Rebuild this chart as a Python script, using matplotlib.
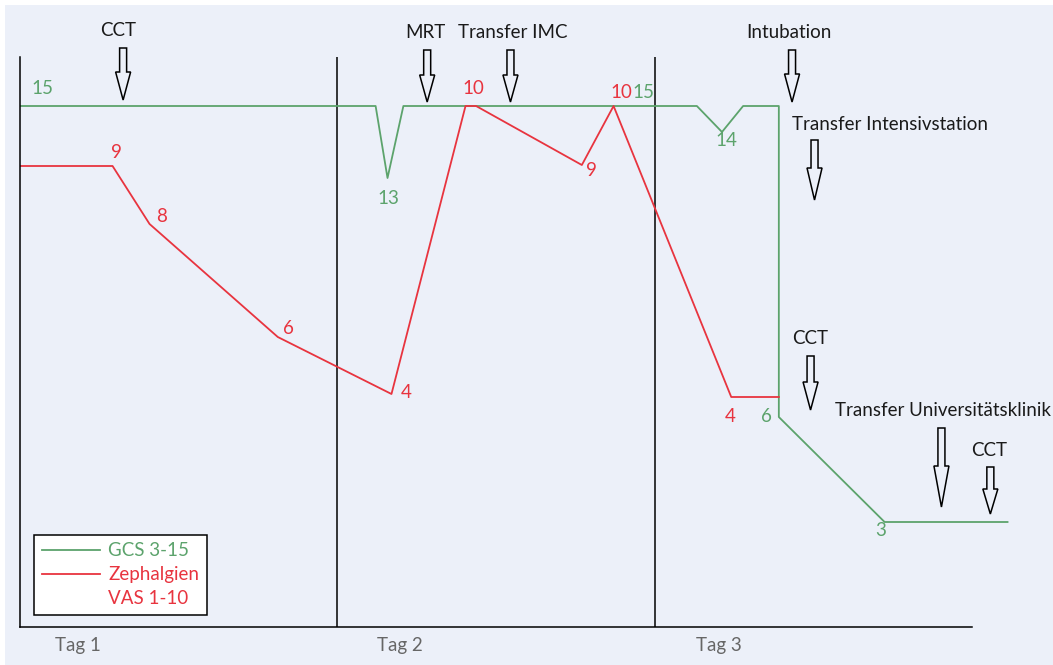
import matplotlib.pyplot as plt
from matplotlib.patches import Rectangle, FancyArrow
from matplotlib.lines import Line2D

plt.rcParams['font.family'] = ['Lato', 'DejaVu Sans']

# Zeitachse in Stunden (3 Tage), Höhe = schematische Position im Diagramm
gcs_t = [0, 26.9, 27.8, 29.0, 51.2, 53.1, 54.7, 57.4, 57.4, 65.4, 74.7]
gcs_h = [521, 521, 449, 521, 521, 495, 521, 521, 210, 105, 105]

vas_t = [0, 7.0, 9.8, 19.5, 28.1, 33.7, 34.5, 42.5, 44.9, 53.8, 57.4]
vas_h = [461, 461, 403, 290, 233, 521, 521, 462, 521, 230, 230]

# Wertbeschriftungen: (Index im Verlauf, Text, Versatz in Pixel)
gcs_labels = [(0, "15", (22, 17)), (2, "13", (1, -20)), (5, "14", (4, -9)),
              (8, "6", (-12, 0)), (9, "3", (-4, -9))]
vas_labels = [(1, "9", (4, 13)), (2, "8", (12, 8)), (3, "6", (11, 8)),
              (4, "4", (15, 2)), (5, "10", (8, 17)), (7, "9", (10, -6)),
              (8, "10", (8, 13)), (9, "4", (-1, -20))]

# Ereignisse: Text, Zeit, Pfeil oben, Pfeilspitze, Kopflänge, Text-x, Text-Höhe
events = [("CCT", 7.8, 579, 527, 28, 7.4, 597),
          ("MRT", 30.8, 577, 525, 27, 30.7, 594),
          ("Transfer IMC", 37.1, 577, 525, 27, 37.3, 594),
          ("Intubation", 58.4, 577, 525, 28, 58.2, 594),
          ("Transfer Intensivstation", 60.1, 487, 427, 32, 65.8, 503),
          ("CCT", 59.8, 271, 217, 28, 59.8, 288),
          ("Transfer Universitätsklinik", 69.7, 199, 120, 41, 69.8, 217),
          ("CCT", 73.4, 160, 113, 25, 73.3, 176)]

days = ["Tag 1", "Tag 2", "Tag 3"]
day_label_t = [4.4, 28.7, 52.9]

green = "#5ca36c"
red = "#e8343f"
bg = "#ecf0f9"

fig = plt.figure(figsize=(10.53, 6.65), dpi=100)
fig.patches.append(Rectangle((5 / 1053, 0), 1, 660 / 665, transform=fig.transFigure,
                             facecolor=bg, edgecolor="none", zorder=-10))

px = 13.22  # Pixel pro Stunde
ax = fig.add_axes([20 / 1053, 38 / 665, 1020 / 1053, 570 / 665])
ax.set_facecolor("none")
ax.set_xlim(0, 1020 / px)
ax.set_ylim(0, 570)
ax.spines["top"].set_visible(False)
ax.spines["right"].set_visible(False)
ax.spines["bottom"].set_bounds(0, 72)
for s in ["left", "bottom"]:
    ax.spines[s].set_linewidth(1.1)
ax.set_xticks([])
ax.set_yticks([])

for d in [24, 48]:
    ax.axvline(d, color="black", lw=1.1)

ax.plot(gcs_t, gcs_h, color=green, lw=1.3)
ax.plot(vas_t, vas_h, color=red, lw=1.3)

fs = 13.5
for i, txt, off in gcs_labels:
    ax.annotate(txt, (gcs_t[i], gcs_h[i]), xytext=off, textcoords="offset pixels",
                ha="center", va="center", color=green, fontsize=fs)
ax.annotate("15", (48, 521), xytext=(-11, 13), textcoords="offset pixels",
            ha="center", va="center", color=green, fontsize=fs)
for i, txt, off in vas_labels:
    ax.annotate(txt, (vas_t[i], vas_h[i]), xytext=off, textcoords="offset pixels",
                ha="center", va="center", color=red, fontsize=fs)

for txt, t, top, tip, hl, tx, th in events:
    ax.add_patch(FancyArrow(t, top, 0, tip - top, width=7 / px, head_width=15 / px,
                            head_length=hl, length_includes_head=True,
                            facecolor=bg, edgecolor="black", lw=1.1, clip_on=False))
    ax.text(tx, th, txt, ha="center", va="center", fontsize=fs, color="#1a1a1a",
            clip_on=False)

for t, d in zip(day_label_t, days):
    ax.text(t, -18, d, ha="center", va="center", fontsize=fs, color="#666666",
            clip_on=False)

handles = [Line2D([], [], color=green, lw=1.3), Line2D([], [], color=red, lw=1.3),
           Line2D([], [], color="none")]
leg = ax.legend(handles, ["GCS 3-15", "Zephalgien", "VAS 1-10"], loc="lower left",
                bbox_to_anchor=(14 / 1020, 12 / 570), borderaxespad=0, fontsize=fs,
                frameon=True, fancybox=False, framealpha=1, edgecolor="black",
                handlelength=3.1, handletextpad=0.45, labelspacing=0.38,
                borderpad=0.4)
leg.get_frame().set_linewidth(1.1)
for text, c in zip(leg.get_texts(), [green, red, red]):
    text.set_color(c)

fig.savefig("out.png", dpi=100)
